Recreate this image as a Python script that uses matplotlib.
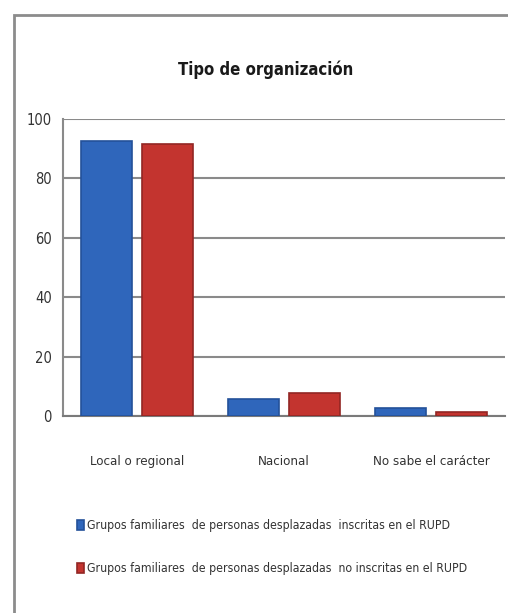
import matplotlib
matplotlib.use("Agg")
import matplotlib.pyplot as plt
import numpy as np
from matplotlib.patches import Rectangle

plt.rcParams['font.family'] = ['DejaVu Sans']
plt.rcParams['font.stretch'] = 'condensed'

title = "Tipo de organización"
categories = ["Local o regional", "Nacional", "No sabe el carácter"]
series_names = ["Grupos familiares  de personas desplazadas  inscritas en el RUPD",
                "Grupos familiares  de personas desplazadas  no inscritas en el RUPD"]
inscritas = [92.5, 5.7, 2.7]
no_inscritas = [91.5, 7.7, 1.5]
yticks = [0, 20, 40, 60, 80, 100]

W, H = 508, 613
fig = plt.figure(figsize=(W / 100, H / 100), dpi=100)
fig.patch.set_facecolor('white')

fig.patches.append(Rectangle((14 / W, -0.05), 1.2, 1 - 15 / H + 0.05, transform=fig.transFigure,
                             fill=False, edgecolor='#8c8c8c', linewidth=2))

ax = fig.add_axes([63 / W, 1 - 416 / H, (505 - 63) / W, (416 - 119) / H])
x = np.arange(len(categories))
bw = 0.345
off = 0.207
b1 = ax.bar(x - off, inscritas, bw, color='#2f66bb', edgecolor='#24519a', linewidth=1.2, zorder=3,
            label=series_names[0])
b2 = ax.bar(x + off, no_inscritas, bw, color='#c3342f', edgecolor='#922624', linewidth=1.2, zorder=3,
            label=series_names[1])

ax.set_xlim(-0.5, len(categories) - 0.5)
ax.set_ylim(0, 100)
ax.set_yticks(yticks)
ax.set_yticklabels([str(v) for v in yticks], fontsize=10.5, color='#333333')
ax.set_xticks(x)
ax.set_xticklabels(categories, fontsize=9.5, color='#333333')
ax.tick_params(axis='y', length=0, pad=8)
ax.tick_params(axis='x', length=0, pad=28)
ax.yaxis.grid(True, color='#8a8a8a', linewidth=1.5, zorder=0)
ax.set_axisbelow(True)
for s in ['top', 'right']:
    ax.spines[s].set_visible(False)
ax.spines['left'].set_color('#8a8a8a')
ax.spines['left'].set_linewidth(1.5)
ax.spines['bottom'].set_color('#7a7a7a')
ax.spines['bottom'].set_linewidth(1.5)

fig.text(266 / W, 1 - 70 / H, title, ha='center', va='center', fontsize=12,
         fontweight='bold', color='#1a1a1a')

fig.legend(handles=[b1, b2], labels=series_names, loc='upper left',
           bbox_to_anchor=(66 / W, 1 - 508 / H), frameon=False, fontsize=8.8,
           handlelength=0.6, handleheight=0.9, handletextpad=0.2, labelspacing=2.45,
           labelcolor='#333333')

fig.savefig("out.png", dpi=100, facecolor='white')
